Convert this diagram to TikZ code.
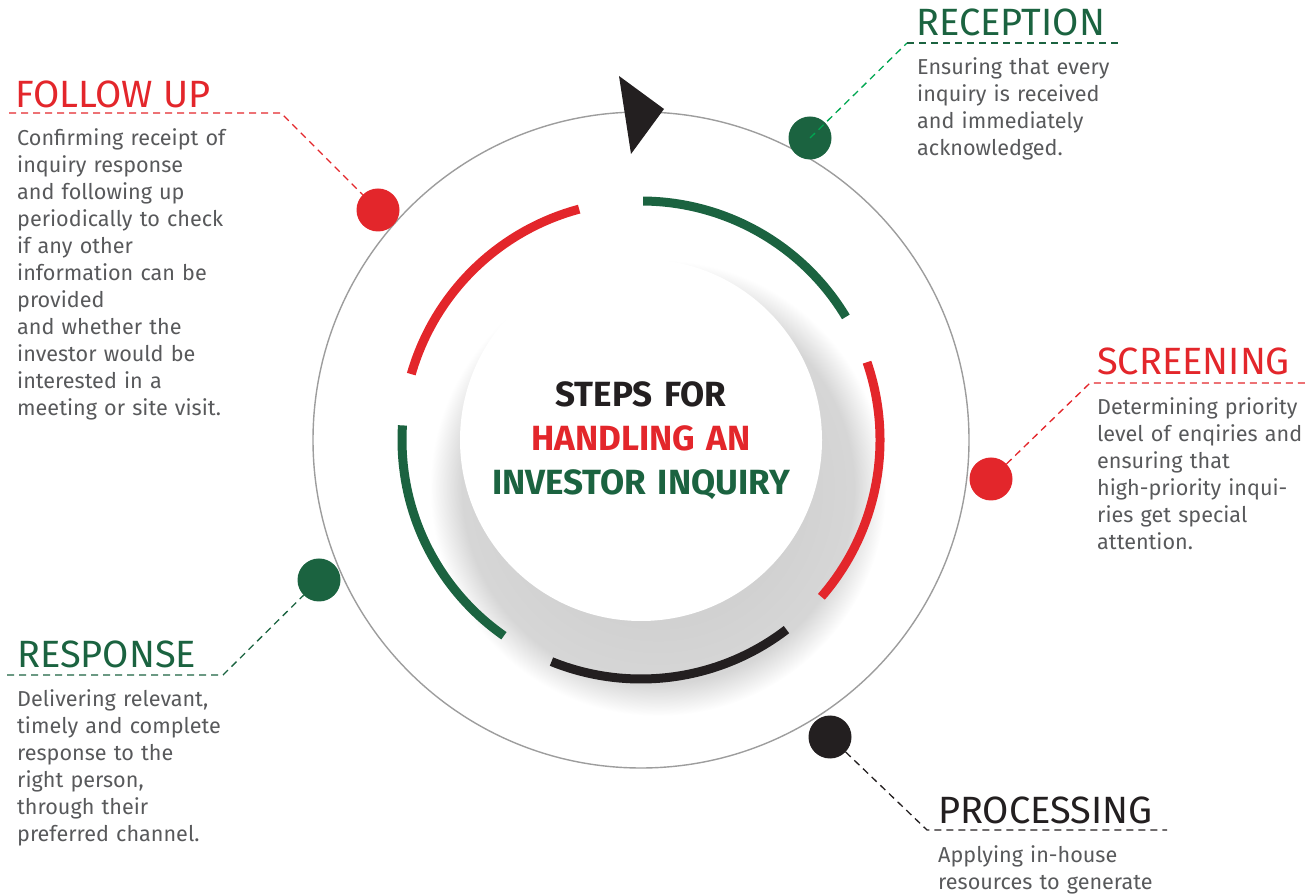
\documentclass[tikz,border=0pt]{standalone}
\usepackage{fontspec}
\setmainfont{Fira Sans}
\newfontfamily\headfont{Fira Sans}
\definecolor{invred}{HTML}{E3262B}
\definecolor{invgreen}{HTML}{1B6340}
\definecolor{leafgreen}{HTML}{00A651}
\definecolor{invblack}{HTML}{231F20}
\definecolor{bodygray}{HTML}{58595B}
\definecolor{ringgray}{HTML}{9D9D9D}
\pgfdeclareradialshading{halo}{\pgfpoint{0bp}{0bp}}{color(0bp)=(black!19); color(15bp)=(black!18); color(21.5bp)=(black!16); color(25bp)=(white); color(50bp)=(white)}
\begin{document}
\begin{tikzpicture}[x=1pt,y=1pt]
            \tikzstyle{dot}=[circle,inner sep=0pt,minimum size=43pt]
            \tikzstyle{band}=[line width=9pt]
            \tikzstyle{lead}=[line width=1.3pt,dash pattern=on 7pt off 5pt]
            \tikzstyle{head}=[anchor=base west,inner sep=0pt,font=\headfont\fontsize{38}{38}\selectfont]
            \tikzstyle{info}=[anchor=base west,inner sep=0pt,text width=300pt,align=left,text=bodygray,font=\fontsize{21.6}{27}\selectfont]
            \useasboundingbox (0,0) rectangle (1308,894);
            \coordinate (c) at (641,454);
            \begin{scope}
               % ring, halo and the white disc
               \shade[shading=halo] (658,406) circle [radius=228pt];
               \fill[white] (c) circle [radius=181pt];
               \draw[ringgray,line width=1.4pt] (c) circle [radius=328pt];
               \fill[invblack] (619,818) -- (664,785) -- (631,740) -- cycle;
               % coloured bands
               \draw[band,invgreen] (c) ++(89.5:239pt) arc [start angle=89.5,end angle=31,radius=239pt];
               \draw[band,invred] (c) ++(19:239pt) arc [start angle=19,end angle=-41,radius=239pt];
               \draw[band,invblack] (c) ++(-52.5:239pt) arc [start angle=-52.5,end angle=-112,radius=239pt];
               \draw[band,invgreen] (c) ++(176.5:239pt) arc [start angle=176.5,end angle=235,radius=239pt];
               \draw[band,invred] (c) ++(105:239pt) arc [start angle=105,end angle=164,radius=239pt];
               \node [font=\bfseries\fontsize{35}{44}\selectfont,text=invblack,align=center,text width=400pt,anchor=base,inner sep=0pt] (title) at (641,487) {STEPS FOR\\ \textcolor{invred}{HANDLING AN}\\ \textcolor{invgreen}{INVESTOR INQUIRY}};
            \end{scope}
            \begin{scope}
               % step dots and leaders
               \node [dot,fill=invgreen] (rcp) at (810,756) {};
               \node [dot,fill=invred] (fup) at (378,684) {};
               \node [dot,fill=invred] (scr) at (991,415) {};
               \node [dot,fill=invgreen] (rsp) at (319,314) {};
               \node [dot,fill=invblack] (prc) at (830,157) {};
               \coordinate (rcpK) at (907,851);
               \coordinate (rcpE) at (1122,851);
               \coordinate (fupK) at (281,781);
               \coordinate (fupE) at (9,781);
               \coordinate (scrK) at (1090,511);
               \coordinate (scrE) at (1308,511);
               \coordinate (rspK) at (223,219);
               \coordinate (rspE) at (7,219);
               \coordinate (prcK) at (927,64);
               \coordinate (prcE) at (1167,64);
               \draw[lead,leafgreen] (rcp.center) -- (rcpK);
               \draw[lead,invgreen] (rcpK) -- (rcpE);
               \draw[lead,invred] (fupE) -- (fupK) -- (fup);
               \draw[lead,invred] (scr) -- (scrK) -- (scrE);
               \draw[lead,invgreen] (rspE) -- (rspK) -- (rsp);
               \draw[lead,invblack] (prc) -- (prcK) -- (prcE);
            \end{scope}
            \begin{scope}
               % step texts
               \node [head,text=invgreen] (rcpT) at (916,858) {RECEPTION};
               \node [info] (rcpB) at (917,819) {Ensuring that every\\ inquiry is received\\ and immediately\\ acknowledged.};
               \node [head,text=invred] (fupT) at (15,786) {FOLLOW UP};
               \node [info] (fupB) at (17,748) {Confirming receipt of\\ inquiry response\\ and following up\\ periodically to check\\ if any other\\ information can be\\ provided\\ and whether the\\ investor would be\\ interested in a\\ meeting or site visit.};
               \node [head,text=invred] (scrT) at (1097,519) {SCREENING};
               \node [info] (scrB) at (1097,479) {Determining priority\\ level of enqiries and\\ ensuring that\\ high-priority inqui-\\ ries get special\\ attention.};
               \node [head,text=invgreen] (rspT) at (17,226) {RESPONSE};
               \node [info] (rspB) at (17,187) {Delivering relevant,\\ timely and complete\\ response to the\\ right person,\\ through their\\ preferred channel.};
               \node [head,text=invblack] (prcT) at (938,71) {PROCESSING};
               \node [info] (prcB) at (938,32) {Applying in-house\\ resources to generate};
            \end{scope}
        \end{tikzpicture}
\end{document}
